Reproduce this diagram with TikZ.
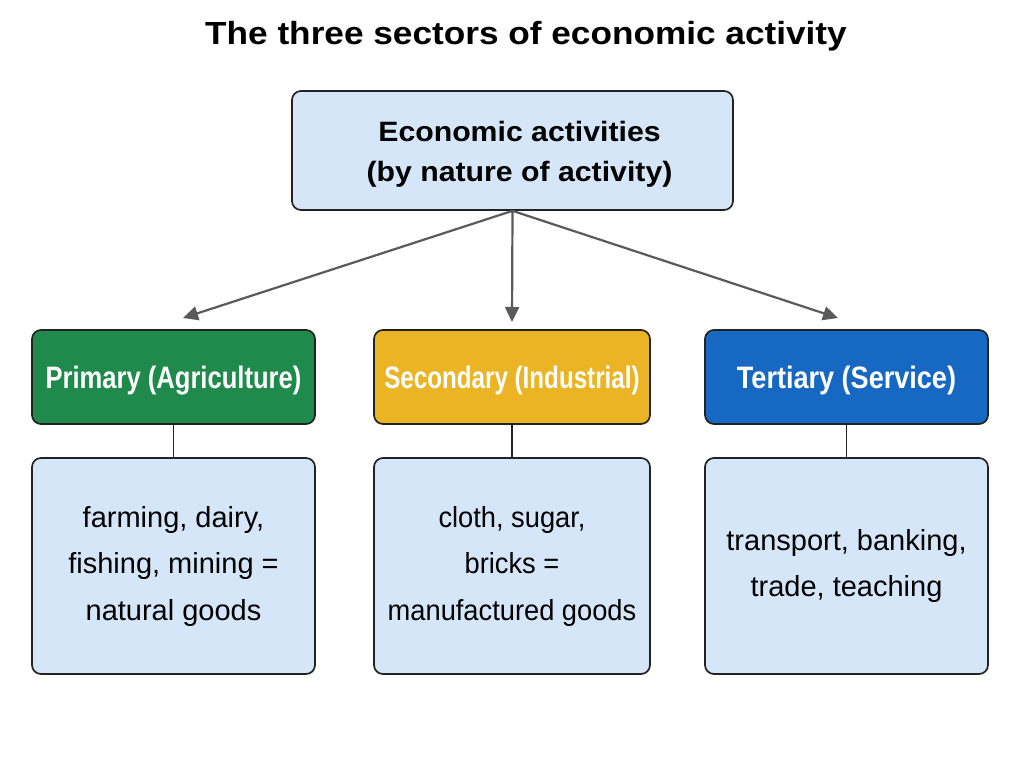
\documentclass[tikz,border=0pt]{standalone}
\usepackage{fontspec}
\setmainfont{Liberation Sans}
\newfontfamily\condfont[FakeStretch=0.825]{Liberation Sans}
\newfontfamily\condfontS[FakeStretch=0.78]{Liberation Sans}
\newfontfamily\condfontT[FakeStretch=0.873]{Liberation Sans}
\newfontfamily\detfont[FakeStretch=1.0]{Liberation Sans}
\newfontfamily\detfontS[FakeStretch=0.94]{Liberation Sans}
\newfontfamily\titlefont[FakeStretch=1.1]{Liberation Sans}
\newfontfamily\topfont[FakeStretch=1.08]{Liberation Sans}
\usetikzlibrary{arrows.meta}
\definecolor{boxfill}{HTML}{D4E6F8}
\definecolor{edgecol}{HTML}{222222}
\definecolor{arrcol}{HTML}{5A5A5A}
\definecolor{prim}{HTML}{1F8A4C}
\definecolor{seco}{HTML}{EBB424}
\definecolor{tert}{HTML}{1668C2}
\tikzset{
  x=1pt, y=-1pt,
  panel/.style={draw=edgecol, line width=1.7pt, rounded corners=9pt, inner sep=0pt, align=center},
  topbox/.style={panel, fill=boxfill, minimum width=441pt, minimum height=119pt, font=\topfont\bfseries\fontsize{28}{40}\selectfont},
  sector/.style={panel, minimum width=283pt, minimum height=94pt, text depth=0pt},
  sectorfont/.style={font=#1\bfseries\fontsize{31}{34}\selectfont},
  detail/.style={panel, fill=boxfill, minimum width=283pt, minimum height=216pt},
  detailfont/.style={font=#1\fontsize{29}{46.5}\selectfont},
  arr/.style={draw=arrcol, line width=2.2pt, -{Triangle[length=15pt,width=14pt]}},
  link/.style={draw=edgecol, line width=1.8pt}
}
\begin{document}
\begin{tikzpicture}
\useasboundingbox (0,0) rectangle (1024,768);
\fill[white] (0,0) rectangle (1024,768);
\node[font=\titlefont\bfseries\fontsize{32}{38}\selectfont] (title) at (526,36) {The three sectors of economic activity};
\node[topbox] (top) at (512.5,150.5) {\rule{0pt}{28pt}\hspace*{14pt}Economic activities\\\hspace*{14pt}(by nature of activity)};
\node[sector, sectorfont=\condfont, fill=prim, text=white] (p) at (173.5,377) {Primary (Agriculture)};
\node[sector, sectorfont=\condfontS, fill=seco, text=white, minimum width=276pt] (s) at (512,377) {Secondary (Industrial)};
\node[sector, sectorfont=\condfontT, fill=tert, text=white] (t) at (846.5,377) {Tertiary (Service)};
\node[detail, detailfont=\detfont] (pd) at (173.5,566) {farming, dairy,\\fishing, mining =\\natural goods};
\node[detail, detailfont=\detfontS, minimum width=276pt] (sd) at (512,566) {cloth, sugar,\\bricks =\\manufactured goods};
\node[detail, detailfont=\detfont] (td) at (846.5,566) {transport, banking,\\trade, teaching};
\coordinate (pa) at (183,318);
\coordinate (sa) at (512,322);
\coordinate (ta) at (838,318);
\draw[arr] (top.south) -- (pa);
\draw[arr] (top.south) -- (sa);
\draw[arr] (top.south) -- (ta);
\draw[link] (p.south) -- (pd.north);
\draw[link] (s.south) -- (sd.north);
\draw[link] (t.south) -- (td.north);
\end{tikzpicture}
\end{document}
